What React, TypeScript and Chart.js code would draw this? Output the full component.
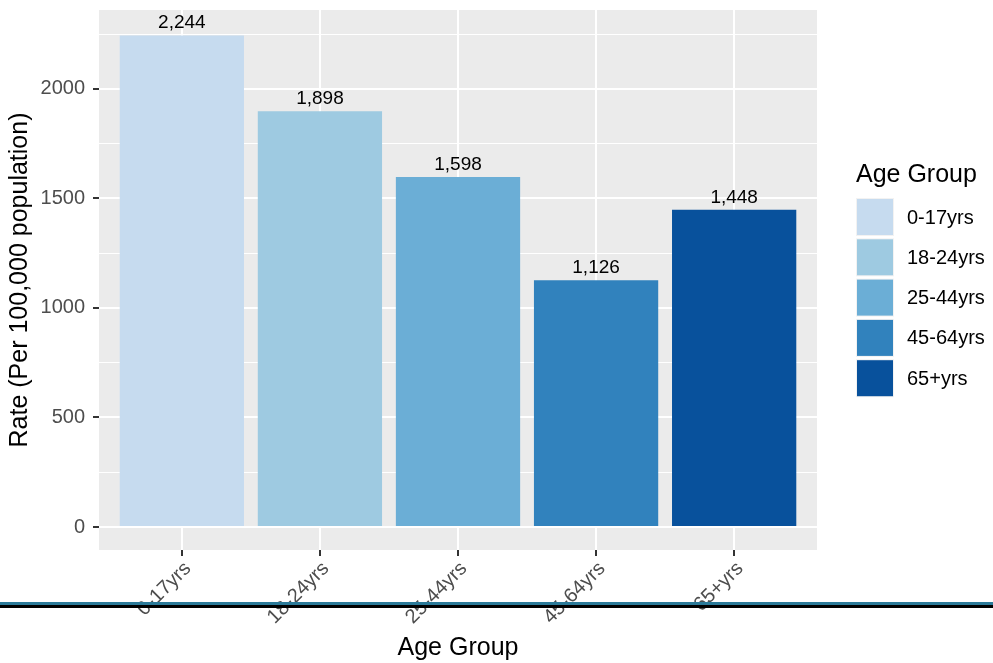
import React, { useEffect, useRef } from "react";
import { Chart, registerables } from "chart.js";

Chart.register(...registerables);

const categories = ["0-17yrs", "18-24yrs", "25-44yrs", "45-64yrs", "65+yrs"];
const rates = [2244, 1898, 1598, 1126, 1448];
const barColors = ["#C6DBEF", "#9ECAE1", "#6BAED6", "#3182BD", "#08519C"];
const yMajorTicks = [0, 500, 1000, 1500, 2000];
const yMinorTicks = [250, 750, 1250, 1750, 2250];
const yAxisLimits = [-105, 2360];
const xAxisTitle = "Age Group";
const yAxisTitle = "Rate (Per 100,000 population)";
const legendTitle = "Age Group";

const FONT = "'Liberation Sans', Arial, Helvetica, sans-serif";
const W = 993;
const H = 663;

const panelBg = {
  id: "panelBg",
  beforeDraw(chart: any) {
    const { ctx, chartArea } = chart;
    ctx.save();
    ctx.fillStyle = "#EBEBEB";
    ctx.fillRect(chartArea.left, chartArea.top, chartArea.right - chartArea.left, chartArea.bottom - chartArea.top);
    ctx.restore();
  },
};

const barLabels = {
  id: "barLabels",
  afterDatasetsDraw(chart: any) {
    const { ctx } = chart;
    const meta = chart.getDatasetMeta(0);
    ctx.save();
    ctx.font = `19px ${FONT}`;
    ctx.fillStyle = "#000000";
    ctx.textAlign = "center";
    ctx.textBaseline = "alphabetic";
    meta.data.forEach((el: any, i: number) => {
      ctx.fillText(rates[i].toLocaleString("en-US"), el.x, el.y - 7);
    });
    ctx.restore();
  },
};

const customLegend = {
  id: "customLegend",
  afterDraw(chart: any) {
    const { ctx, chartArea } = chart;
    const x0 = chartArea.right + 39;
    ctx.save();
    ctx.fillStyle = "#000000";
    ctx.font = `25px ${FONT}`;
    ctx.textAlign = "left";
    ctx.textBaseline = "alphabetic";
    ctx.fillText(legendTitle, x0, 182);
    const keyTop = 198;
    const pitch = 40.3;
    const size = 38;
    categories.forEach((c, i) => {
      const y = keyTop + i * pitch;
      ctx.fillStyle = "#F2F2F2";
      ctx.fillRect(x0, y, size, size);
      ctx.fillStyle = barColors[i];
      ctx.fillRect(x0 + 1, y + 1, size - 2, size - 2);
      ctx.fillStyle = "#000000";
      ctx.font = `20px ${FONT}`;
      ctx.textBaseline = "middle";
      ctx.fillText(c, x0 + size + 13, y + size / 2 + 1);
    });
    ctx.restore();
  },
};

export default function App() {
  const ref = useRef<HTMLCanvasElement | null>(null);

  useEffect(() => {
    if (!ref.current) return;
    const allY = [...yMajorTicks, ...yMinorTicks].sort((a, b) => a - b);
    const chart = new Chart(ref.current, {
      type: "bar",
      data: {
        datasets: [
          {
            label: "Rate",
            data: rates.map((v, i) => ({ x: i, y: v })),
            backgroundColor: barColors,
            borderWidth: 0,
            barPercentage: 0.9,
            categoryPercentage: 1.0,
          },
        ],
      },
      options: {
        responsive: false,
        animation: false,
        events: [],
        layout: { padding: { top: 10, right: 176, left: 0, bottom: 0 } },
        plugins: {
          legend: { display: false },
          tooltip: { enabled: false },
        },
        scales: {
          x: {
            type: "linear",
            min: -0.6,
            max: 4.6,
            offset: false,
            afterBuildTicks: (scale: any) => {
              scale.ticks = categories.map((_, i) => ({ value: i }));
            },
            afterFit: (scale: any) => {
              scale.height = 113;
              scale.paddingLeft = 0;
              scale.paddingRight = 0;
            },
            border: { display: false },
            grid: {
              offset: false,
              color: "#FFFFFF",
              lineWidth: 2,
              drawTicks: true,
              tickLength: 6,
              tickColor: "#333333",
              tickWidth: 2,
            },
            ticks: {
              autoSkip: false,
              minRotation: 45,
              maxRotation: 45,
              padding: 1,
              labelOffset: 6,
              color: "#4D4D4D",
              font: { family: FONT, size: 20 },
              callback: (v: any) => categories[Math.round(Number(v))] ?? "",
            },
            title: {
              display: true,
              text: xAxisTitle,
              color: "#000000",
              font: { family: FONT, size: 25 },
              padding: { top: 0, bottom: 0 },
            },
          },
          y: {
            type: "linear",
            min: yAxisLimits[0],
            max: yAxisLimits[1],
            afterBuildTicks: (scale: any) => {
              scale.ticks = allY.map((v) => ({ value: v }));
            },
            afterFit: (scale: any) => {
              scale.width = 99;
              scale.paddingTop = 0;
              scale.paddingBottom = 0;
            },
            border: { display: false },
            grid: {
              color: "#FFFFFF",
              lineWidth: (c: any) => (yMajorTicks.includes(c.tick?.value) ? 2 : 1),
              drawTicks: true,
              tickLength: 6,
              tickColor: (c: any) => (yMajorTicks.includes(c.tick?.value) ? "#333333" : "rgba(0,0,0,0)"),
              tickWidth: 2,
            },
            ticks: {
              autoSkip: false,
              padding: 8,
              color: "#4D4D4D",
              font: { family: FONT, size: 20 },
              callback: (v: any) => (yMajorTicks.includes(Number(v)) ? String(v) : ""),
            },
            title: {
              display: true,
              text: yAxisTitle,
              color: "#000000",
              font: { family: FONT, size: 25 },
              padding: { top: 5, bottom: 0 },
            },
          },
        },
      } as any,
      plugins: [panelBg, barLabels, customLegend],
    });
    return () => chart.destroy();
  }, []);

  return (
    <div style={{ position: "absolute", left: 0, top: 0, width: W, height: H, background: "#FFFFFF", overflow: "hidden" }}>
      <canvas ref={ref} width={W} height={H} style={{ display: "block", width: W, height: H }} />
      <div style={{ position: "absolute", left: 0, top: 602, width: W, height: 3, background: "#2B7A99" }} />
      <div style={{ position: "absolute", left: 0, top: 605, width: W, height: 3, background: "#000000" }} />
    </div>
  );
}
